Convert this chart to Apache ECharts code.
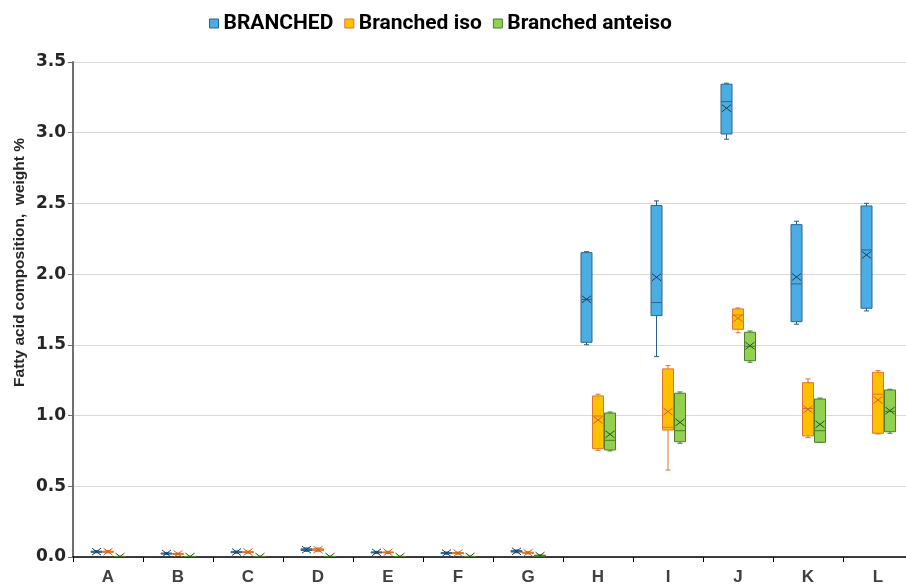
<!DOCTYPE html>
<html>
<head>
<meta charset="utf-8">
<script src="https://cdn.jsdelivr.net/npm/echarts@6/dist/echarts.min.js"></script>
<style>
  html, body { margin: 0; padding: 0; background: #fff; }
  #chart { width: 906px; height: 586px; }
</style>
</head>
<body>
<div id="chart"></div>
<script>
// Sample groups on the category axis
const categories = ['A', 'B', 'C', 'D', 'E', 'F', 'G', 'H', 'I', 'J', 'K', 'L'];

// Box statistics per group: [min, Q1, median, Q3, max]
const branchedBox = [
  [0.030, 0.033, 0.037, 0.041, 0.045],
  [0.018, 0.021, 0.024, 0.028, 0.031],
  [0.027, 0.031, 0.034, 0.038, 0.042],
  [0.040, 0.046, 0.051, 0.058, 0.064],
  [0.025, 0.029, 0.032, 0.036, 0.040],
  [0.020, 0.024, 0.027, 0.032, 0.035],
  [0.030, 0.035, 0.040, 0.045, 0.050],
  [1.501, 1.518, 1.820, 2.152, 2.159],
  [1.417, 1.707, 1.799, 2.485, 2.518],
  [2.954, 2.991, 3.220, 3.343, 3.350],
  [1.646, 1.664, 1.931, 2.350, 2.374],
  [1.740, 1.759, 2.171, 2.482, 2.501]
];
const branchedMean = [0.038, 0.025, 0.035, 0.052, 0.033, 0.028, 0.040, 1.822, 1.978, 3.173, 1.980, 2.136];

const isoBox = [
  [0.030, 0.033, 0.037, 0.041, 0.045],
  [0.016, 0.019, 0.022, 0.025, 0.028],
  [0.027, 0.031, 0.034, 0.038, 0.042],
  [0.040, 0.045, 0.051, 0.058, 0.064],
  [0.025, 0.029, 0.032, 0.036, 0.040],
  [0.020, 0.024, 0.027, 0.032, 0.035],
  [0.022, 0.026, 0.030, 0.034, 0.038],
  [0.754, 0.766, 0.997, 1.139, 1.151],
  [0.615, 0.898, 0.917, 1.330, 1.353],
  [1.586, 1.610, 1.711, 1.754, 1.761],
  [0.844, 0.856, 1.050, 1.233, 1.259],
  [0.870, 0.875, 1.151, 1.306, 1.318]
];
const isoMean = [0.038, 0.022, 0.035, 0.052, 0.033, 0.028, 0.030, 0.969, 1.028, 1.688, 1.044, 1.110];

const anteisoBox = [
  [0.001, 0.002, 0.003, 0.004, 0.005],
  [0.001, 0.002, 0.003, 0.004, 0.005],
  [0.001, 0.002, 0.003, 0.004, 0.005],
  [0.001, 0.002, 0.003, 0.004, 0.005],
  [0.001, 0.002, 0.003, 0.004, 0.005],
  [0.001, 0.002, 0.003, 0.004, 0.006],
  [0.004, 0.006, 0.009, 0.013, 0.015],
  [0.750, 0.757, 0.825, 1.018, 1.025],
  [0.804, 0.815, 0.893, 1.158, 1.167],
  [1.377, 1.388, 1.490, 1.589, 1.598],
  [0.810, 0.811, 0.893, 1.117, 1.124],
  [0.875, 0.886, 1.030, 1.181, 1.186]
];
const anteisoMean = [0.003, 0.003, 0.003, 0.003, 0.003, 0.004, 0.010, 0.868, 0.952, 1.494, 0.938, 1.035];

const yTicks = [0, 0.5, 1.0, 1.5, 2.0, 2.5, 3.0, 3.5];

const chart = echarts.init(document.getElementById('chart'));

// Builds a box-and-whisker renderer with short whisker caps and an "x" mean marker
function boxRenderer(offset, look) {
  const half = 5.5, cap = 2.5, mx = 4.5, my = 3.5;
  return function (params, api) {
    const cat = api.value(0);
    const px = function (v) { return api.coord([cat, v]); };
    const x = px(0)[0] + offset;
    const yMin = px(api.value(1))[1];
    const yQ1 = px(api.value(2))[1];
    const yMed = px(api.value(3))[1];
    const yQ3 = px(api.value(4))[1];
    const yMax = px(api.value(5))[1];
    const yMean = px(api.value(6))[1];
    const line = function (x1, y1, x2, y2, color) {
      return { type: 'line', shape: { x1: x1, y1: y1, x2: x2, y2: y2 },
               style: { stroke: color, lineWidth: 1 } };
    };
    return {
      type: 'group',
      children: [
        line(x, yQ3, x, yMax, look.whisker),
        line(x, yQ1, x, yMin, look.whisker),
        line(x - cap, yMax, x + cap, yMax, look.whisker),
        line(x - cap, yMin, x + cap, yMin, look.whisker),
        { type: 'rect', shape: { x: x - half, y: yQ3, width: half * 2, height: Math.max(yQ1 - yQ3, 0.5) },
          style: { fill: look.fill, stroke: look.border, lineWidth: 1 } },
        line(x - half, yMed, x + half, yMed, look.border),
        line(x - mx, yMean - my, x + mx, yMean + my, look.mean),
        line(x - mx, yMean + my, x + mx, yMean - my, look.mean)
      ]
    };
  };
}

const looks = [
  { fill: '#4aaee3', border: '#2a6592', whisker: '#2a5c86', mean: '#1f3d5c', offset: -11.5 },
  { fill: '#ffc000', border: '#e0742c', whisker: '#e0742c', mean: '#d2601e', offset: 0 },
  { fill: '#92d050', border: '#4b7d2d', whisker: '#4b7d2d', mean: '#2b5218', offset: 12 }
];
const names = ['BRANCHED', 'Branched iso', 'Branched anteiso'];
const boxes = [branchedBox, isoBox, anteisoBox];
const means = [branchedMean, isoMean, anteisoMean];

const series = names.map(function (name, s) {
  const look = looks[s];
  return {
    name: name,
    type: 'custom',
    clip: true,
    itemStyle: { color: look.fill, borderColor: look.border, borderWidth: 1 },
    encode: { x: 0, y: [1, 2, 3, 4, 5, 6] },
    data: categories.map(function (c, i) {
      return [c].concat(boxes[s][i], [means[s][i]]);
    }),
    renderItem: boxRenderer(look.offset, look)
  };
});

chart.setOption({
  animation: false,
  backgroundColor: '#ffffff',
  legend: {
    top: 8,
    left: 204,
    itemWidth: 9,
    itemHeight: 9,
    itemGap: 11,
    icon: 'rect',
    textStyle: { fontFamily: 'Roboto', fontWeight: 'bold', fontSize: 21, color: '#000' },
    data: names.map(function (n, s) {
      return { name: n, itemStyle: { color: looks[s].fill, borderColor: looks[s].border, borderWidth: 1 } };
    })
  },
  grid: { left: 73, width: 840, top: 62, height: 495, outerBoundsMode: 'none', containLabel: false },
  xAxis: {
    type: 'category',
    data: categories,
    axisLine: { lineStyle: { color: '#000', width: 1.5 } },
    axisTick: { show: true, length: 5, alignWithLabel: false, lineStyle: { color: '#000' } },
    axisLabel: { color: '#404040', fontFamily: 'Liberation Sans', fontWeight: 'bold', fontSize: 17, margin: 12 },
    splitLine: { show: false }
  },
  yAxis: {
    type: 'value',
    min: yTicks[0],
    max: yTicks[yTicks.length - 1],
    interval: 0.5,
    axisLine: { show: true, lineStyle: { color: '#6f6f6f', width: 2 } },
    axisTick: { show: true, length: 5, lineStyle: { color: '#6f6f6f' } },
    axisLabel: {
      color: '#262626', fontFamily: 'DejaVu Sans', fontWeight: 'bold', fontSize: 17, margin: 7,
      formatter: function (v) { return v.toFixed(1); }
    },
    splitLine: { show: true, lineStyle: { color: '#d9d9d9', width: 1 } }
  },
  graphic: [{
    type: 'text',
    left: 12,
    top: 138,
    rotation: Math.PI / 2,
    style: {
      text: 'Fatty acid composition,  weight %',
      font: 'bold 15.5px "Liberation Sans"',
      fill: '#262626'
    }
  }],
  series: series
});
</script>
</body>
</html>
